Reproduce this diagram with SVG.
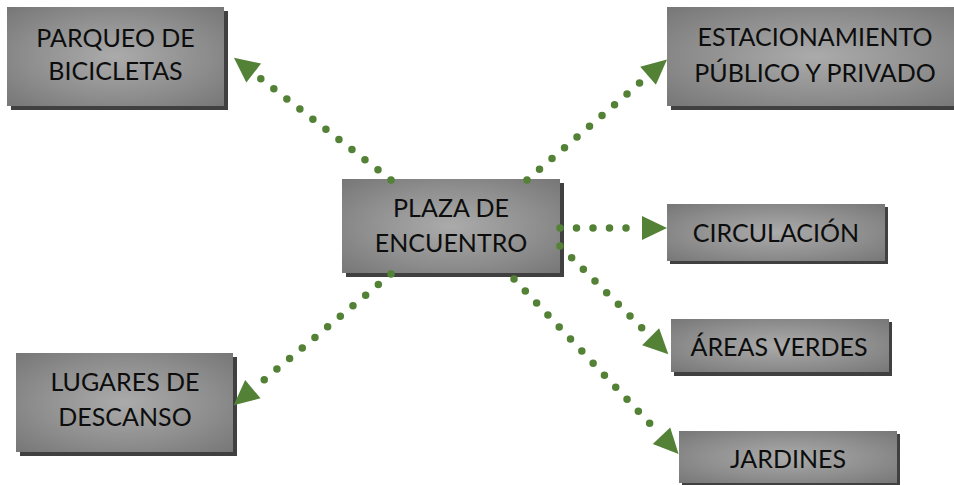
<svg xmlns="http://www.w3.org/2000/svg" width="954" height="485" viewBox="0 0 954 485">
<defs>
<radialGradient id="g" cx="50%" cy="50%" r="70%">
<stop offset="0" stop-color="#ababab"/>
<stop offset="0.6" stop-color="#8d8d8d"/>
<stop offset="1" stop-color="#777777"/>
</radialGradient>
<marker id="ah" markerUnits="userSpaceOnUse" markerWidth="40" markerHeight="30" refX="0" refY="15" orient="auto">
<path d="M8,3 L33,15 L8,27 z" fill="#538135"/>
</marker>
<style>
.sh{fill:#404040}
.bx{fill:url(#g)}
.t{font-family:Lato,"Open Sans",sans-serif;font-size:25px;fill:#0d0d0d;text-anchor:middle}
.c{stroke:#538135;stroke-width:7.5;stroke-linecap:round;stroke-dasharray:0 16.5;fill:none;marker-end:url(#ah)}
</style>
</defs>
<rect width="954" height="485" fill="#ffffff"/>
<g id="parqueo">
<rect class="sh" x="11" y="11" width="217" height="99"/>
<rect class="bx" x="7" y="7" width="217" height="99"/>
<text class="t" x="115.5" y="47">PARQUEO DE</text>
<text class="t" x="115.5" y="80">BICICLETAS</text>
</g>
<g id="estacionamiento">
<rect class="sh" x="671" y="11" width="296" height="99"/>
<rect class="bx" x="667" y="7" width="296" height="99"/>
<text class="t" x="815" y="46">ESTACIONAMIENTO</text>
<text class="t" x="815" y="82">PÚBLICO Y PRIVADO</text>
</g>
<g id="plaza">
<rect class="sh" x="346" y="183" width="218" height="94"/>
<rect class="bx" x="342" y="179" width="218" height="94"/>
<text class="t" x="451" y="217">PLAZA DE</text>
<text class="t" x="451" y="252">ENCUENTRO</text>
</g>
<g id="circulacion">
<rect class="sh" x="670" y="207" width="218" height="57"/>
<rect class="bx" x="667" y="204" width="218" height="57"/>
<text class="t" x="776" y="242">CIRCULACIÓN</text>
</g>
<g id="areas">
<rect class="sh" x="674" y="322" width="218" height="54"/>
<rect class="bx" x="671" y="319" width="218" height="53"/>
<text class="t" x="779" y="356">ÁREAS VERDES</text>
</g>
<g id="lugares">
<rect class="sh" x="20" y="357" width="217" height="99"/>
<rect class="bx" x="16" y="353" width="217" height="99"/>
<text class="t" x="125" y="391">LUGARES DE</text>
<text class="t" x="125" y="426">DESCANSO</text>
</g>
<g id="jardines">
<rect class="sh" x="682" y="434" width="218" height="52"/>
<rect class="bx" x="679" y="431" width="218" height="52"/>
<text class="t" x="788" y="468">JARDINES</text>
</g>
<g id="connectors">
<line class="c" x1="391" y1="180" x2="260" y2="78"/>
<line class="c" x1="527" y1="180" x2="642" y2="81"/>
<line class="c" x1="560" y1="228" x2="634" y2="228"/>
<line class="c" x1="560" y1="246" x2="645" y2="331"/>
<line class="c" x1="514" y1="279" x2="656" y2="430"/>
<line class="c" x1="391" y1="274" x2="259" y2="384"/>
</g>
</svg>
